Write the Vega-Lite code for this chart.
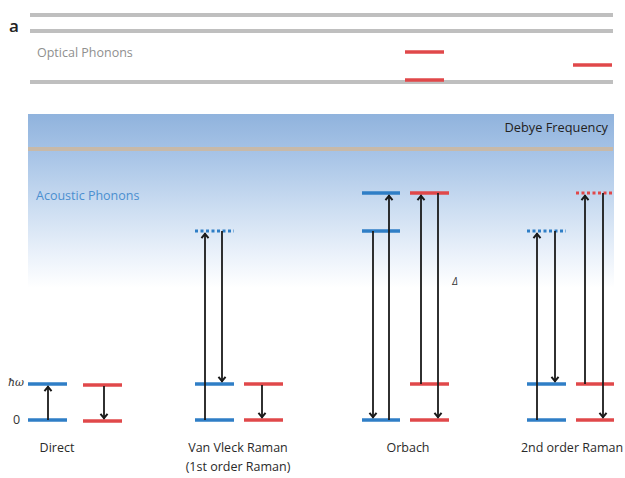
{
  "$schema": "https://vega.github.io/schema/vega-lite/v6.json",
  "width": 625,
  "height": 478,
  "autosize": {"type": "fit", "contains": "padding"},
  "padding": 0,
  "background": "#ffffff",
  "config": {"view": {"stroke": null}},
  "datasets": {
    "bands": [{"x": 28, "x2": 614, "y": 114, "y2": 288, "name": "phonon band"}],
    "lines": [
      {"x": 30, "x2": 613, "y": 15, "y2": 15, "kind": "gray"},
      {"x": 30, "x2": 613, "y": 31, "y2": 31, "kind": "gray"},
      {"x": 30, "x2": 613, "y": 82, "y2": 82, "kind": "gray"},
      {"x": 405, "x2": 444, "y": 52, "y2": 52, "kind": "red"},
      {"x": 405, "x2": 444, "y": 80, "y2": 80, "kind": "red"},
      {"x": 573, "x2": 612, "y": 65, "y2": 65, "kind": "red"},
      {"x": 28, "x2": 613, "y": 149, "y2": 149, "kind": "tan"},
      {"x": 28, "x2": 67, "y": 384, "y2": 384, "kind": "blue"},
      {"x": 28, "x2": 67, "y": 420, "y2": 420, "kind": "blue"},
      {"x": 83, "x2": 122, "y": 385, "y2": 385, "kind": "red"},
      {"x": 83, "x2": 122, "y": 421, "y2": 421, "kind": "red"},
      {"x": 195, "x2": 234, "y": 384, "y2": 384, "kind": "blue"},
      {"x": 195, "x2": 234, "y": 420, "y2": 420, "kind": "blue"},
      {"x": 244, "x2": 283, "y": 384, "y2": 384, "kind": "red"},
      {"x": 244, "x2": 283, "y": 420, "y2": 420, "kind": "red"},
      {"x": 195, "x2": 234, "y": 231, "y2": 231, "kind": "bluedot"},
      {"x": 362, "x2": 400, "y": 193, "y2": 193, "kind": "blue"},
      {"x": 362, "x2": 400, "y": 231, "y2": 231, "kind": "blue"},
      {"x": 362, "x2": 400, "y": 420, "y2": 420, "kind": "blue"},
      {"x": 410, "x2": 449, "y": 193, "y2": 193, "kind": "red"},
      {"x": 410, "x2": 449, "y": 384, "y2": 384, "kind": "red"},
      {"x": 410, "x2": 449, "y": 420, "y2": 420, "kind": "red"},
      {"x": 527, "x2": 566, "y": 384, "y2": 384, "kind": "blue"},
      {"x": 527, "x2": 566, "y": 420, "y2": 420, "kind": "blue"},
      {"x": 576, "x2": 614, "y": 384, "y2": 384, "kind": "red"},
      {"x": 576, "x2": 614, "y": 420, "y2": 420, "kind": "red"},
      {"x": 527, "x2": 566, "y": 231, "y2": 231, "kind": "bluedot"},
      {"x": 576, "x2": 614, "y": 193, "y2": 193, "kind": "reddot"}
    ],
    "arrows": [
      {"x": 48, "x2": 48, "y": 420, "y2": 386},
      {"x": 104, "x2": 104, "y": 386, "y2": 419},
      {"x": 205, "x2": 205, "y": 420, "y2": 233},
      {"x": 222, "x2": 222, "y": 231, "y2": 382},
      {"x": 262, "x2": 262, "y": 385, "y2": 418},
      {"x": 373, "x2": 373, "y": 231, "y2": 418},
      {"x": 389, "x2": 389, "y": 420, "y2": 195},
      {"x": 421, "x2": 421, "y": 384, "y2": 195},
      {"x": 438, "x2": 438, "y": 193, "y2": 418},
      {"x": 537, "x2": 537, "y": 420, "y2": 233},
      {"x": 555, "x2": 555, "y": 231, "y2": 382},
      {"x": 585, "x2": 585, "y": 384, "y2": 195},
      {"x": 603, "x2": 603, "y": 193, "y2": 418}
    ],
    "heads": [
      {"x": 48, "y": 389, "dir": "up"},
      {"x": 104, "y": 416, "dir": "down"},
      {"x": 205, "y": 236, "dir": "up"},
      {"x": 222, "y": 379, "dir": "down"},
      {"x": 262, "y": 415, "dir": "down"},
      {"x": 373, "y": 415, "dir": "down"},
      {"x": 389, "y": 198, "dir": "up"},
      {"x": 421, "y": 198, "dir": "up"},
      {"x": 438, "y": 415, "dir": "down"},
      {"x": 537, "y": 236, "dir": "up"},
      {"x": 555, "y": 379, "dir": "down"},
      {"x": 585, "y": 198, "dir": "up"},
      {"x": 603, "y": 415, "dir": "down"}
    ],
    "labels": [
      {"x": 9, "y": 27, "text": "a", "role": "panel"},
      {"x": 37, "y": 53, "text": "Optical Phonons", "role": "optical"},
      {"x": 608, "y": 128, "text": "Debye Frequency", "role": "debye"},
      {"x": 36, "y": 196, "text": "Acoustic Phonons", "role": "acoustic"},
      {"x": 8, "y": 383, "text": "ħω", "role": "energy"},
      {"x": 13, "y": 420, "text": "0", "role": "zero"},
      {"x": 57, "y": 448, "text": "Direct", "role": "process"},
      {"x": 238, "y": 448, "text": "Van Vleck Raman", "role": "process"},
      {"x": 238, "y": 467, "text": "(1st order Raman)", "role": "process"},
      {"x": 408, "y": 448, "text": "Orbach", "role": "process"},
      {"x": 572, "y": 448, "text": "2nd order Raman", "role": "process"},
      {"x": 455, "y": 282, "text": "Δ", "role": "delta"}
    ]
  },
  "encoding": {
    "x": {"field": "x", "type": "quantitative", "axis": null, "scale": {"domain": [0, 625], "nice": false, "zero": false}},
    "y": {"field": "y", "type": "quantitative", "axis": null, "scale": {"domain": [0, 478], "nice": false, "zero": false, "reverse": true}}
  },
  "layer": [
    {
      "data": {"name": "bands"},
      "mark": {"type": "rect", "fill": {"gradient": "linear", "x1": 0, "y1": 0, "x2": 0, "y2": 1, "stops": [
        {"offset": 0, "color": "#90b3dd"},
        {"offset": 0.25, "color": "#a9c5e7"},
        {"offset": 0.5, "color": "#c7daf0"},
        {"offset": 0.8, "color": "#eaf1fa"},
        {"offset": 1, "color": "#ffffff"}
      ]}, "opacity": 1},
      "encoding": {"x2": {"field": "x2"}, "y2": {"field": "y2"}}
    },
    {
      "data": {"name": "lines"},
      "transform": [{"filter": "datum.kind == 'gray' || datum.kind == 'tan'"}],
      "mark": {"type": "rule", "strokeCap": "butt", "strokeWidth": 4},
      "encoding": {
        "x2": {"field": "x2"},
        "y2": {"field": "y2"},
        "color": {"field": "kind", "type": "nominal", "legend": null, "scale": {
          "domain": ["gray", "tan", "blue", "red", "bluedot", "reddot"],
          "range": ["#bfbfbf", "#c8b9a8", "#2f7ec6", "#e0484a", "#2f7ec6", "#e0484a"]}}
      }
    },
    {
      "data": {"name": "lines"},
      "transform": [{"filter": "datum.kind == 'blue' || datum.kind == 'red'"}],
      "mark": {"type": "rule", "strokeCap": "butt", "strokeWidth": 3.5},
      "encoding": {
        "x2": {"field": "x2"},
        "y2": {"field": "y2"},
        "color": {"field": "kind", "type": "nominal", "legend": null}
      }
    },
    {
      "data": {"name": "lines"},
      "transform": [{"filter": "datum.kind == 'bluedot' || datum.kind == 'reddot'"}],
      "mark": {"type": "rule", "strokeCap": "butt", "strokeWidth": 3, "strokeDash": [3, 2.5]},
      "encoding": {
        "x2": {"field": "x2"},
        "y2": {"field": "y2"},
        "color": {"field": "kind", "type": "nominal", "legend": null}
      }
    },
    {
      "data": {"name": "arrows"},
      "mark": {"type": "rule", "strokeCap": "butt", "strokeWidth": 1.8, "color": "#1a1a1a"},
      "encoding": {"x2": {"field": "x2"}, "y2": {"field": "y2"}}
    },
    {
      "data": {"name": "heads"},
      "mark": {"type": "point", "filled": false, "color": "#1a1a1a", "strokeWidth": 2, "size": 50, "opacity": 1},
      "encoding": {
        "shape": {"field": "dir", "type": "nominal", "legend": null, "scale": {"domain": ["up", "down"], "range": ["M-1,0.6L0,-0.6L1,0.6", "M-1,-0.6L0,0.6L1,-0.6"]}}
      }
    },
    {
      "data": {"name": "labels"},
      "transform": [{"filter": "datum.role == 'panel'"}],
      "mark": {"type": "text", "align": "left", "baseline": "middle", "font": "Open Sans", "fontSize": 17, "fontWeight": 600, "color": "#222222"},
      "encoding": {"text": {"field": "text"}}
    },
    {
      "data": {"name": "labels"},
      "transform": [{"filter": "datum.role == 'optical'"}],
      "mark": {"type": "text", "align": "left", "baseline": "middle", "font": "Open Sans", "fontSize": 12.5, "color": "#8f8f8f"},
      "encoding": {"text": {"field": "text"}}
    },
    {
      "data": {"name": "labels"},
      "transform": [{"filter": "datum.role == 'debye'"}],
      "mark": {"type": "text", "align": "right", "baseline": "middle", "font": "Open Sans", "fontSize": 12.8, "color": "#222222"},
      "encoding": {"text": {"field": "text"}}
    },
    {
      "data": {"name": "labels"},
      "transform": [{"filter": "datum.role == 'acoustic'"}],
      "mark": {"type": "text", "align": "left", "baseline": "middle", "font": "Open Sans", "fontSize": 12.5, "color": "#4b8fcf"},
      "encoding": {"text": {"field": "text"}}
    },
    {
      "data": {"name": "labels"},
      "transform": [{"filter": "datum.role == 'energy'"}],
      "mark": {"type": "text", "align": "left", "baseline": "middle", "font": "DejaVu Serif", "fontSize": 11, "fontStyle": "italic", "color": "#333333"},
      "encoding": {"text": {"field": "text"}}
    },
    {
      "data": {"name": "labels"},
      "transform": [{"filter": "datum.role == 'zero'"}],
      "mark": {"type": "text", "align": "left", "baseline": "middle", "font": "Open Sans", "fontSize": 12.5, "color": "#333333"},
      "encoding": {"text": {"field": "text"}}
    },
    {
      "data": {"name": "labels"},
      "transform": [{"filter": "datum.role == 'process'"}],
      "mark": {"type": "text", "align": "center", "baseline": "middle", "font": "Open Sans", "fontSize": 12.5, "color": "#2a2a2a"},
      "encoding": {"text": {"field": "text"}}
    },
    {
      "data": {"name": "labels"},
      "transform": [{"filter": "datum.role == 'delta'"}],
      "mark": {"type": "text", "align": "center", "baseline": "middle", "font": "Open Sans", "fontSize": 10, "fontStyle": "italic", "color": "#333333"},
      "encoding": {"text": {"field": "text"}}
    }
  ]
}
